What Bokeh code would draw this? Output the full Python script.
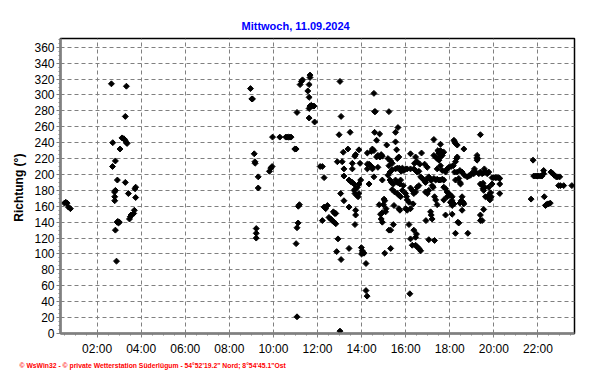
import math
from bokeh.plotting import figure
from bokeh.models import FixedTicker, Range1d, Title
from bokeh.embed import file_html
from bokeh.resources import INLINE

titel = "Mittwoch, 11.09.2024"
y_titel = "Richtung  (°)"
fusszeile = "© WsWin32  -  © private Wetterstation Süderlügum  -  54°52'19.2\" Nord; 8°54'45.1\"Ost"

x_ticks = [2, 4, 6, 8, 10, 12, 14, 16, 18, 20, 22]
x_labels = ["02:00", "04:00", "06:00", "08:00", "10:00", "12:00",
            "14:00", "16:00", "18:00", "20:00", "22:00"]
y_ticks = [0, 20, 40, 60, 80, 100, 120, 140, 160, 180, 200, 220, 240,
           260, 280, 300, 320, 340, 360]

# Messwerte: Uhrzeit (Stunden) und Windrichtung (Grad)
zeit_nacht = [0.52, 0.58, 0.64, 0.70, 0.79]
richtung_nacht = [164, 165, 164, 159, 157]

zeit_frueh = [2.65, 3.33, 3.28, 3.13, 3.21, 3.27, 3.33, 3.36, 2.71, 3.04, 2.83, 2.70, 2.92,
              3.28, 3.75, 3.72, 2.83, 2.79, 3.42, 2.80, 2.80, 3.75, 3.69, 3.66, 3.51, 3.47,
              3.54, 2.94, 3.01, 2.91, 2.97, 2.83, 2.88]
richtung_frueh = [314, 311, 273, 246, 245, 243, 240, 239, 240, 232, 217, 210, 193,
                  190, 184, 182, 180, 178, 176, 172, 167, 171, 155, 151, 147, 144,
                  149, 141, 140, 140, 139, 130, 91]

zeit_morgen = [8.96, 9.02, 9.05, 9.13, 9.16, 9.17, 9.31, 9.31, 9.22, 9.22, 9.22]
richtung_morgen = [308, 295, 295, 226, 216, 214, 197, 183, 132, 126, 120]

zeit_vormittag = [9.96, 10.29, 10.56, 10.62, 10.68, 10.74, 10.80, 9.88, 9.82, 9.94, 10.97,
                  11.03, 11.07, 11.21, 11.27, 11.32, 11.66, 11.66, 11.62, 11.56, 11.62,
                  11.66, 11.72, 11.78, 11.84, 11.62, 11.62, 11.87, 12.12, 11.18, 11.13,
                  11.12, 11.07, 11.03, 11.07]
richtung_vormittag = [247, 247, 247, 247, 247, 247, 247, 208, 204, 210, 232,
                      232, 278, 313, 317, 319, 325, 322, 313, 305, 297,
                      286, 287, 286, 286, 283, 271, 266, 210, 162, 160,
                      139, 133, 113, 21]

zeit_mittag = [12.22, 12.30, 13.02, 13.07, 12.98, 13.48, 13.17, 13.38, 12.90, 13.12, 13.20,
               13.20, 13.58, 13.58, 13.69, 13.73, 13.88, 13.93, 13.43, 13.51, 13.58, 13.66,
               13.73, 13.81, 13.88, 13.96, 13.66, 13.70, 13.78, 13.84, 13.88, 13.05, 13.20,
               13.43, 13.73, 13.73, 13.70, 12.30, 12.37, 12.45, 12.52, 12.60, 12.67, 12.75,
               12.83, 12.72, 12.78, 12.83, 12.22, 12.93, 12.87, 13.43, 13.07, 13.99, 14.03,
               14.06, 14.11, 14.00, 14.20, 14.20, 14.25, 13.02]
richtung_mittag = [210, 196, 317, 273, 250, 253, 228, 232, 216, 216, 207,
                   198, 214, 207, 223, 225, 231, 214, 193, 191, 190, 188,
                   182, 184, 188, 193, 180, 176, 174, 172, 176, 176, 167,
                   159, 155, 149, 137, 159, 157, 161, 146, 144, 142, 140,
                   138, 153, 151, 151, 142, 119, 103, 107, 93, 108, 104,
                   102, 101, 100, 88, 54, 47, 3]

zeit_nachmittag = [14.56, 14.59, 14.62, 15.24, 14.59, 14.82, 14.68, 14.49, 14.56, 14.44, 14.26,
                   14.74, 14.83, 14.89, 14.94, 14.68, 15.14, 15.20, 15.32, 15.39, 15.24, 15.54,
                   15.65, 15.54, 15.59, 15.69, 15.62, 14.26, 14.34, 14.41, 14.49, 14.26, 14.49,
                   14.74, 14.56, 14.34, 14.94, 15.20, 15.29, 15.39, 15.54, 15.62, 15.71, 15.29,
                   15.35, 15.44, 15.54, 15.62, 15.74, 15.77, 15.80, 15.85, 15.92, 16.00, 16.07,
                   16.22, 16.37, 16.45, 16.52, 16.60, 15.39, 15.50, 15.62, 15.69, 15.77, 15.85,
                   15.89, 16.00, 16.04, 16.07, 16.15, 15.02, 15.05, 14.99, 14.80, 14.94, 14.86,
                   15.09, 14.89, 14.94, 15.11, 15.47, 15.69, 15.74, 15.24, 15.32, 15.44, 15.32,
                   15.05, 16.15, 16.22, 16.00, 16.07, 16.37, 16.49, 16.22, 16.30, 16.45, 16.45,
                   16.52, 16.60, 16.68, 16.19, 17.05, 17.31]
richtung_nachmittag = [302, 279, 279, 279, 253, 251, 243, 232, 230, 229, 227,
                       224, 222, 225, 223, 222, 237, 220, 217, 214, 211, 253,
                       259, 241, 231, 222, 220, 213, 213, 211, 209, 207, 207,
                       209, 197, 188, 193, 199, 203, 206, 207, 208, 208, 193,
                       190, 188, 193, 190, 188, 193, 204, 208, 205, 207, 207,
                       207, 207, 205, 203, 204, 181, 178, 176, 174, 172, 180,
                       186, 176, 172, 168, 165, 169, 167, 162, 162, 152, 150,
                       153, 144, 140, 157, 161, 157, 155, 130, 130, 137, 107,
                       101, 137, 157, 157, 155, 130, 125, 119, 111, 121, 111,
                       109, 107, 104, 50, 118, 117]

zeit_spaet = [16.22, 16.45, 16.52, 16.40, 16.64, 16.72, 16.86, 16.98, 16.68, 16.75, 16.83,
              16.90, 16.98, 17.05, 17.13, 17.20, 17.25, 17.16, 17.28, 16.22, 16.30, 16.37,
              16.52, 16.60, 16.45, 16.90, 16.98, 17.05, 16.34, 16.92, 17.13, 17.16, 17.20,
              17.36, 17.43, 17.31, 17.28, 17.58, 17.66, 17.58, 17.51, 17.73, 17.46, 17.28,
              17.36, 17.43, 17.51, 17.58, 17.66, 17.43, 17.58, 17.66, 17.81, 17.88, 17.96,
              17.36, 17.43, 17.51, 17.58, 17.66, 17.73, 17.73, 17.81, 17.88, 17.96, 18.03,
              18.11, 17.73, 17.88, 18.11, 18.19, 18.11, 18.03, 17.81, 18.11, 18.26, 18.37,
              18.41, 18.82]
richtung_spaet = [226, 222, 216, 214, 213, 227, 213, 209, 197, 195, 193,
                  190, 195, 197, 193, 186, 184, 193, 195, 183, 180, 176,
                  184, 186, 178, 178, 176, 180, 163, 142, 153, 149, 144,
                  168, 162, 172, 244, 238, 228, 230, 227, 228, 230, 224,
                  222, 220, 218, 222, 224, 207, 211, 205, 203, 207, 209,
                  193, 194, 193, 193, 194, 193, 184, 182, 178, 176, 174,
                  172, 168, 172, 167, 163, 161, 165, 149, 150, 126, 140,
                  139, 126]

zeit_abend = [18.19, 18.22, 18.26, 18.34, 18.64, 18.34, 18.31, 18.26, 18.16, 18.06, 18.22,
              18.34, 18.46, 18.56, 18.67, 18.79, 18.86, 18.94, 19.02, 19.09, 18.26, 18.41,
              18.46, 18.49, 18.56, 18.52, 18.61, 18.64, 18.56, 18.46, 19.12, 19.17, 19.24,
              19.24, 19.24, 19.27, 19.32, 19.39, 19.39, 19.47, 19.54, 19.62, 19.70, 19.77,
              19.57, 19.39, 19.47, 19.51, 19.54, 19.59, 19.51, 19.62, 19.73, 19.77, 19.85,
              19.88, 19.82, 19.77, 19.54, 19.39, 19.39, 19.47, 19.92, 19.99, 20.07, 20.14,
              20.22, 20.27, 20.27, 20.27, 19.92]
richtung_abend = [243, 241, 239, 237, 232, 222, 220, 216, 211, 210, 203,
                  203, 205, 203, 199, 197, 198, 199, 202, 201, 193, 195,
                  190, 188, 172, 167, 165, 163, 155, 164, 207, 203, 224,
                  221, 218, 220, 201, 250, 203, 201, 202, 203, 201, 203,
                  207, 188, 186, 182, 180, 184, 189, 172, 171, 174, 177,
                  172, 168, 184, 156, 149, 142, 142, 196, 196, 196, 196,
                  196, 195, 188, 176, 188]

zeit_nacht2 = [21.78, 21.69, 21.81, 21.88, 21.96, 22.03, 22.11, 22.18, 22.26, 22.26, 22.29,
               22.38, 22.44, 22.49, 22.56, 22.34, 22.59, 22.68, 22.74, 22.83, 22.90, 22.99,
               22.94, 23.02, 23.17, 23.54]
richtung_nacht2 = [218, 169, 198, 198, 198, 198, 198, 198, 205, 201, 172,
                   162, 163, 163, 164, 161, 203, 201, 199, 197, 197, 197,
                   186, 186, 186, 186]

zeit = (zeit_nacht + zeit_frueh + zeit_morgen + zeit_vormittag + zeit_mittag
        + zeit_nachmittag + zeit_spaet + zeit_abend + zeit_nacht2)
richtung = (richtung_nacht + richtung_frueh + richtung_morgen + richtung_vormittag
            + richtung_mittag + richtung_nachmittag + richtung_spaet + richtung_abend
            + richtung_nacht2)

FONT = "Liberation Sans"
GRAU = "#808080"

p = figure(width=592, height=384, output_backend="svg", toolbar_location=None,
           x_range=Range1d(0.34, 23.66), y_range=Range1d(0, 371),
           min_border_left=60, min_border_right=18, min_border_top=38,
           min_border_bottom=51)
p.background_fill_color = "white"
p.border_fill_color = "white"
p.outline_line_color = "black"
p.outline_line_width = 1.5

p.title.text = titel
p.title.align = "left"
p.title.offset = 181
p.title.text_font = FONT
p.title.text_font_size = "11px"
p.title.text_font_style = "bold"
p.title.text_color = "#0000FF"
p.title.standoff = 13

p.add_layout(Title(text=fusszeile, align="left", offset=-41, text_font=FONT,
                   text_font_size="6.8px", text_font_style="bold",
                   text_color="#FF0000", standoff=3), "below")

p.scatter(zeit, richtung, marker="square", angle=math.pi / 4, size=4.2,
          color="black")

# Axes
p.xaxis.ticker = FixedTicker(ticks=x_ticks,
                             minor_ticks=[i * 0.5 for i in range(0, 48)])
p.xaxis.major_label_overrides = {t: l for t, l in zip(x_ticks, x_labels)}
p.yaxis.ticker = FixedTicker(ticks=y_ticks, minor_ticks=list(range(0, 371, 5)))
p.yaxis.axis_label = y_titel
p.yaxis.axis_label_text_font = FONT
p.yaxis.axis_label_text_font_size = "12px"
p.yaxis.axis_label_text_font_style = "bold"
p.yaxis.axis_label_text_color = "black"
p.yaxis.axis_label_standoff = 5
for ax in (p.xaxis[0], p.yaxis[0]):
    ax.axis_line_color = GRAU
    ax.axis_line_width = 2.5
    ax.major_tick_line_color = GRAU
    ax.minor_tick_line_color = GRAU
    ax.major_tick_in = 0
    ax.minor_tick_in = 0
    ax.major_tick_out = 4
    ax.minor_tick_out = 2
    ax.major_label_text_font = FONT
    ax.major_label_text_font_size = "12px"
    ax.major_label_text_color = "black"
p.yaxis.major_label_standoff = 2
p.xaxis.major_label_standoff = 4

p.xgrid.grid_line_color = GRAU
p.ygrid.grid_line_color = GRAU
p.xgrid.grid_line_dash = "4 3"
p.ygrid.grid_line_dash = "4 3"

open("out.html", "w").write(file_html(p, INLINE))
